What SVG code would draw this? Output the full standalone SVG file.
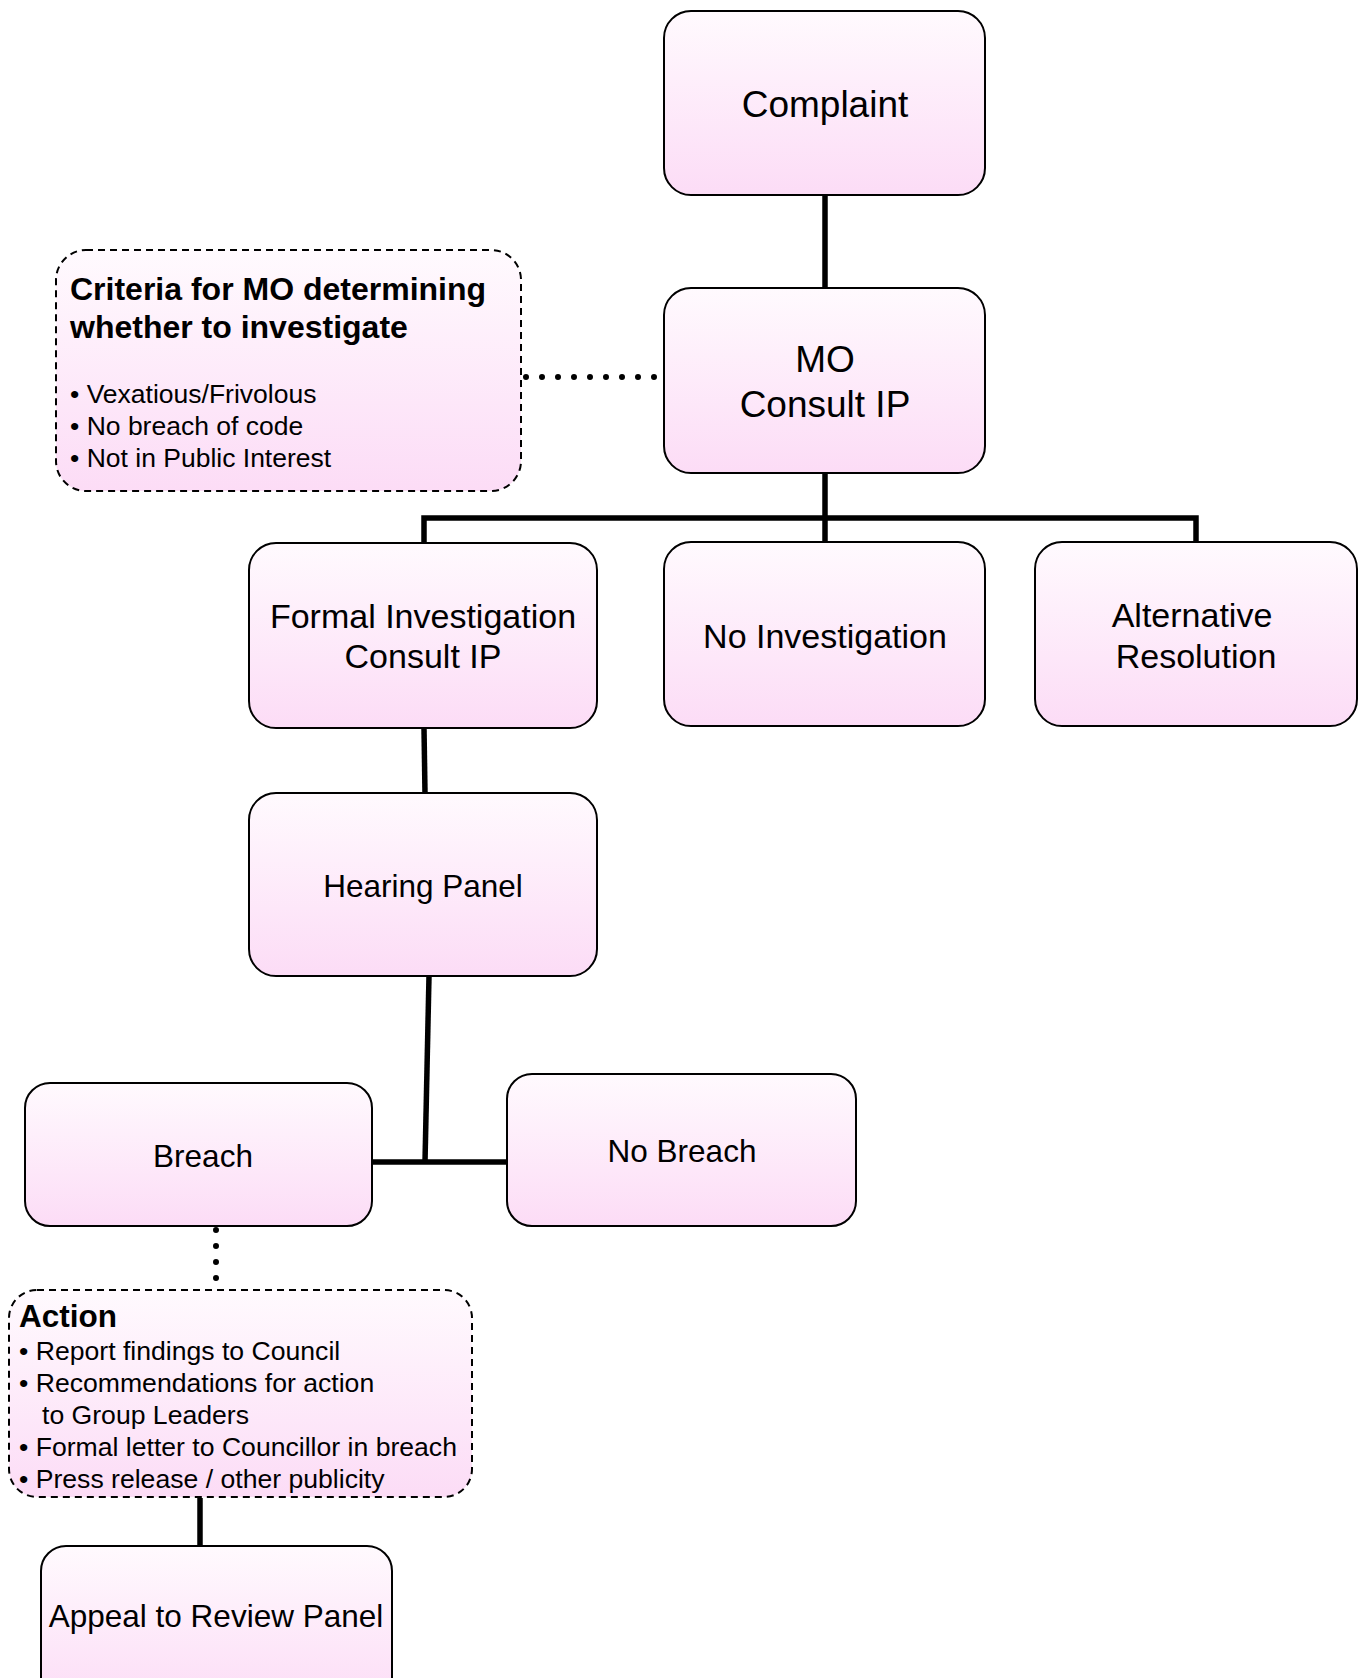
<svg xmlns="http://www.w3.org/2000/svg" width="1363" height="1678" viewBox="0 0 1363 1678">
<defs>
<linearGradient id="pink" x1="0" y1="0" x2="0" y2="1">
<stop offset="0" stop-color="#fffafe"/>
<stop offset="1" stop-color="#fcdcf6"/>
</linearGradient>
<style>
.box{fill:url(#pink);stroke:#000;stroke-width:2}
.dash{fill:url(#pink);stroke:#000;stroke-width:2;stroke-dasharray:7 5}
.t{font-family:"Liberation Sans",Arial,sans-serif;fill:#000;text-anchor:middle}
.l{font-family:"Liberation Sans",Arial,sans-serif;fill:#000}
.b{font-weight:bold}
.con{stroke:#000;stroke-width:5.5;fill:none}
.dot{stroke:#000;stroke-width:6;stroke-linecap:round;fill:none;stroke-dasharray:0 16}
</style>
</defs>
<rect width="1363" height="1678" fill="#fff"/>
<g id="connectors">
<line class="con" x1="825" y1="195" x2="825" y2="288"/>
<line class="con" x1="825" y1="473" x2="825" y2="542"/>
<polyline class="con" points="424,543 424,518 1196,518 1196,542"/>
<line class="con" x1="424" y1="728" x2="425" y2="793"/>
<polyline class="con" points="429,976 425,1162"/>
<line class="con" x1="373" y1="1162" x2="506" y2="1162"/>
<line class="con" x1="200" y1="1498" x2="200" y2="1546"/>
<line class="dot" x1="526" y1="377" x2="657" y2="377"/>
<line class="dot" x1="216" y1="1230" x2="216" y2="1281"/>
</g>
<g id="complaint">
<rect class="box" x="664" y="11" width="321" height="184" rx="27"/>
<text class="t" x="825" y="117" font-size="37">Complaint</text>
</g>
<g id="mo">
<rect class="box" x="664" y="288" width="321" height="185" rx="27"/>
<text class="t" x="825" y="372" font-size="37">MO</text>
<text class="t" x="825" y="417" font-size="37">Consult IP</text>
</g>
<g id="criteria">
<rect class="dash" x="56" y="250" width="465" height="241" rx="30"/>
<text class="l b" x="70" y="300" font-size="32">Criteria for MO determining</text>
<text class="l b" x="70" y="338" font-size="32">whether to investigate</text>
<text class="l" x="70" y="403" font-size="26.5">• Vexatious/Frivolous</text>
<text class="l" x="70" y="435" font-size="26.5">• No breach of code</text>
<text class="l" x="70" y="467" font-size="26.5">• Not in Public Interest</text>
</g>
<g id="formal">
<rect class="box" x="249" y="543" width="348" height="185" rx="27"/>
<text class="t" x="423" y="628" font-size="34">Formal Investigation</text>
<text class="t" x="423" y="668" font-size="34">Consult IP</text>
</g>
<g id="noinv">
<rect class="box" x="664" y="542" width="321" height="184" rx="27"/>
<text class="t" x="825" y="648" font-size="34">No Investigation</text>
</g>
<g id="alt">
<rect class="box" x="1035" y="542" width="322" height="184" rx="27"/>
<text class="t" x="1192" y="627" font-size="34">Alternative</text>
<text class="t" x="1196" y="668" font-size="34">Resolution</text>
</g>
<g id="hearing">
<rect class="box" x="249" y="793" width="348" height="183" rx="27"/>
<text class="t" x="423" y="897" font-size="31.5">Hearing Panel</text>
</g>
<g id="breach">
<rect class="box" x="25" y="1083" width="347" height="143" rx="25"/>
<text class="t" x="203" y="1167" font-size="31.5">Breach</text>
</g>
<g id="nobreach">
<rect class="box" x="507" y="1074" width="349" height="152" rx="25"/>
<text class="t" x="682" y="1162" font-size="31.5">No Breach</text>
</g>
<g id="action">
<rect class="dash" x="9" y="1290" width="463" height="207" rx="28"/>
<text class="l b" x="19" y="1327" font-size="31.5">Action</text>
<text class="l" x="19" y="1360" font-size="26.6">• Report findings to Council</text>
<text class="l" x="19" y="1392" font-size="26.6">• Recommendations for action</text>
<text class="l" x="42" y="1424" font-size="26.6">to Group Leaders</text>
<text class="l" x="19" y="1456" font-size="26.6">• Formal letter to Councillor in breach</text>
<text class="l" x="19" y="1488" font-size="26.6">• Press release / other publicity</text>
</g>
<g id="appeal">
<rect class="box" x="41" y="1546" width="351" height="160" rx="25"/>
<text class="t" x="216" y="1627" font-size="31.5">Appeal to Review Panel</text>
</g>
</svg>
